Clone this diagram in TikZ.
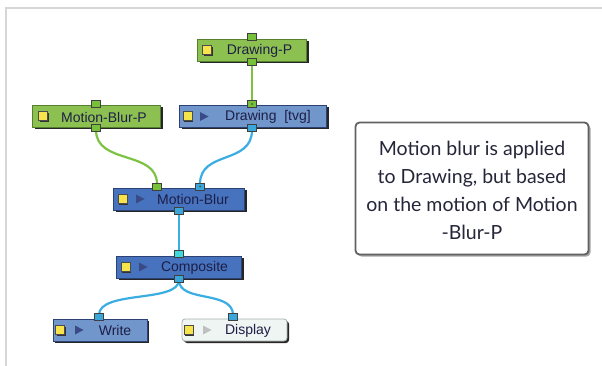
\documentclass[tikz,border=0pt]{standalone}
\usepackage{fontspec}
\setmainfont{Liberation Sans}
\newfontfamily\notefont{Lato}
\usetikzlibrary{shadows}
\definecolor{gfill}{HTML}{8CC152}
\definecolor{gdraw}{HTML}{55802E}
\definecolor{blfill}{HTML}{7096CB}
\definecolor{bdfill}{HTML}{4672BE}
\definecolor{bdraw}{HTML}{2C4275}
\definecolor{dfill}{HTML}{EEF5F2}
\definecolor{ddraw}{HTML}{A8B0B0}
\definecolor{gline}{HTML}{7DC242}
\definecolor{bline}{HTML}{3AAEE2}
\definecolor{gport}{HTML}{76C03A}
\definecolor{bport}{HTML}{3AA6DA}
\definecolor{cport}{HTML}{3ED8DC}
\definecolor{ytag}{HTML}{F7E34B}
\definecolor{txt}{HTML}{1E1E46}
\definecolor{notetxt}{HTML}{26263A}
\definecolor{tri}{HTML}{3A4A86}
\definecolor{frame}{HTML}{D6D6D6}
\tikzset{
  box/.style={minimum height=22pt, inner sep=0pt, line width=0.8pt,
    drop shadow={shadow xshift=2pt, shadow yshift=-2pt, fill=black!85, opacity=1}},
  gbox/.style={box, draw=gdraw, fill=gfill},
  lbox/.style={box, draw=bdraw, fill=blfill},
  dbox/.style={box, draw=bdraw, fill=bdfill},
  lbl/.style={font=\fontsize{14}{14}\selectfont, text=txt, inner sep=0pt},
  tag/.style={draw=black!70, fill=ytag, minimum width=9pt, minimum height=9pt, inner sep=0pt,
    line width=0.6pt, drop shadow={shadow xshift=1.2pt, shadow yshift=-1.2pt, fill=black!80, opacity=1}},
  port/.style={draw=black!75, line width=0.6pt, minimum width=9pt, minimum height=7pt, inner sep=0pt},
  gp/.style={port, fill=gport},
  bp/.style={port, fill=bport},
  cp/.style={port, fill=cport},
  gwire/.style={draw=gline, line width=2.2pt},
  bwire/.style={draw=bline, line width=2.2pt},
  play/.style={fill=tri},
}
\begin{document}
\begin{tikzpicture}[x=1pt,y=-1pt]
\useasboundingbox (0,0) rectangle (602,366);
\fill[white] (0,0) rectangle (602,366);
% frame
\draw[frame, line width=2pt] (6,366) -- (6,8) -- (602,8);

% nodes
\node[gbox, minimum width=109pt] (dp) at (252,50.5) {};
\node[gbox, minimum width=128pt] (mbp) at (96.5,116.5) {};
\node[lbox, minimum width=147pt] (dr) at (253,116.5) {};
\node[dbox, minimum width=131pt] (mb) at (179,199) {};
\node[dbox, minimum width=125pt] (cp) at (179,267) {};
\node[lbox, minimum width=94pt] (wr) at (100,330) {};
\node[box, minimum width=105pt, fill=dfill, draw=ddraw, rounded corners=3pt] (ds) at (234.5,330) {};

% labels
\node[lbl] (dpt) at (259.5,51) {Drawing-P};
\node[lbl] (mbpt) at (104,117) {Motion-Blur-P};
\node[lbl] (drt) at (268,117) {Drawing\ \ [tvg]};
\node[lbl] (mbt) at (193,199.5) {Motion-Blur};
\node[lbl] (cpt) at (194.5,267.5) {Composite};
\node[lbl] (wrt) at (115,330.5) {Write};
\node[lbl] (dst) at (248,330.5) {Display};

% yellow tags
\node[tag] (t1) at (207,50) {};
\node[tag] (t2) at (43,116) {};
\node[tag] (t3) at (187.5,116) {};
\node[tag] (t4) at (122.5,199) {};
\node[tag] (t5) at (125.5,267) {};
\node[tag] (t6) at (60,330) {};
\node[tag] (t7) at (188.5,330) {};

% play triangles
\fill[play] (200,112) -- (200,121) -- (208.5,116.5) -- cycle;
\fill[play] (136,194.5) -- (136,203.5) -- (144.5,199) -- cycle;
\fill[play] (139,262.5) -- (139,271.5) -- (147.5,267) -- cycle;
\fill[play] (75,325.5) -- (75,334.5) -- (83.5,330) -- cycle;
\fill[black!25] (203,325.5) -- (203,334.5) -- (211.5,330) -- cycle;

% wires
\draw[gwire] (252,64) -- (252,103);
\draw[gwire] (96,130) .. controls (96,165) and (157,150) .. (157,184);
\draw[bwire] (252,130) .. controls (252,165) and (200,150) .. (200,184);
\draw[bwire] (179,212) -- (179,252);
\draw[bwire] (179,280) .. controls (179,303) and (99,290) .. (99,315);
\draw[bwire] (179,280) .. controls (179,303) and (233,290) .. (233,315);

% ports
\node[gp] (dpi) at (252,36.5) {};
\node[gp] (dpo) at (252,62) {};
\node[gp] (mbpi) at (96,103.5) {};
\node[gp] (mbpo) at (96,128) {};
\node[gp] (dri) at (252,104) {};
\fill[black!70] (dri.center) circle (1pt);
\node[bp] (dro) at (252,128) {};
\node[gp] (mbi1) at (157,186.5) {};
\node[bp] (mbi2) at (200,186.5) {};
\fill[black!70] (mbi2.center) circle (1pt);
\node[bp] (mbo) at (179,211) {};
\node[cp] (cpi) at (179,254) {};
\node[bp] (cpo) at (179,279) {};
\node[bp] (wri) at (99,317) {};
\node[bp] (dsi) at (233,317) {};

% note
\node[draw=black!62, line width=1.8pt, fill=white, rounded corners=4pt,
  minimum width=233pt, minimum height=132pt, inner sep=0pt,
  drop shadow={shadow xshift=2pt, shadow yshift=-2pt, fill=black!35, opacity=1}] (note) at (472,188.5) {};
\node[font=\notefont\fontsize{19.5}{28}\selectfont, text=notetxt, align=center, inner sep=0pt] (notet) at (472,190)
  {Motion blur is applied\\to Drawing, but based\\on the motion of Motion\\-Blur-P};
\end{tikzpicture}
\end{document}
